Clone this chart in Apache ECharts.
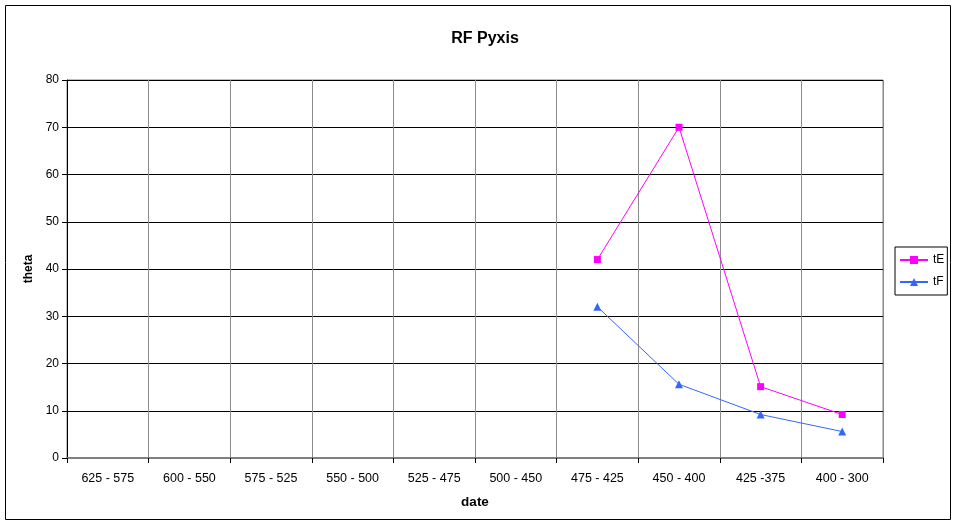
<!DOCTYPE html>
<html><head><meta charset="utf-8">
<script src="https://cdn.jsdelivr.net/npm/echarts@6/dist/echarts.min.js"></script>
<style>html,body{margin:0;padding:0;background:#fff}#c{width:960px;height:525px}</style>
</head><body><div id="c"></div>
<script>
const categories = ['625 - 575','600 - 550','575 - 525','550 - 500','525 - 475','500 - 450','475 - 425','450 - 400','425 -375','400 - 300'];
const tE = [null,null,null,null,null,null,42,70,15.1,9.2];
const tF = [null,null,null,null,null,null,32,15.6,9.2,5.6];
const yTicks = [0,10,20,30,40,50,60,70,80];

const chart = echarts.init(document.getElementById('c'));
const font = '"Liberation Sans", Arial, sans-serif';
chart.setOption({
  animation:false,
  textStyle:{fontFamily:font},
  graphic:[{type:'rect',shape:{x:5.5,y:5.5,width:945,height:514},style:{fill:'none',stroke:'#000',lineWidth:1},silent:true}],
  title:{text:'RF Pyxis',left:480,top:26,textAlign:'center',textStyle:{fontFamily:font,fontSize:16,fontWeight:'bold',color:'#000'}},
  legend:{orient:'vertical',left:895,top:247,itemWidth:28,itemHeight:10,itemGap:10,padding:[7,3,7,4],borderColor:'#000',borderWidth:1,
    textStyle:{fontFamily:font,fontSize:12,color:'#000'},data:['tE','tF']},
  grid:{left:67,right:77,top:80,bottom:67,containLabel:false,show:true,borderColor:'#808080',borderWidth:1},
  xAxis:{type:'category',data:categories,boundaryGap:true,name:'date',nameLocation:'middle',nameGap:37,
    nameTextStyle:{fontFamily:font,fontSize:13.5,fontWeight:'bold',color:'#000'},
    axisLine:{lineStyle:{color:'#808080',width:2}},axisTick:{show:true,length:5,lineStyle:{color:'#000'}},
    axisLabel:{fontFamily:font,fontSize:12.5,color:'#000',margin:14},
    splitLine:{show:true,lineStyle:{color:'#8c8c8c',width:1}}},
  yAxis:{type:'value',min:0,max:80,interval:10,name:'theta',nameLocation:'middle',nameGap:32,nameRotate:90,
    nameTextStyle:{fontFamily:font,fontSize:12,fontWeight:'bold',color:'#000'},
    axisLine:{show:true,lineStyle:{color:'#000',width:1}},axisTick:{show:true,length:5,lineStyle:{color:'#000'}},
    axisLabel:{fontFamily:font,fontSize:12,color:'#000',margin:8},
    splitLine:{show:true,lineStyle:{color:'#000',width:1}}},
  series:[
    {name:'tE',type:'line',data:tE,symbol:'rect',symbolSize:7,color:'#ff00ff',lineStyle:{width:1,color:'#ff00ff'},itemStyle:{color:'#ff00ff'}},
    {name:'tF',type:'line',data:tF,symbol:'triangle',symbolSize:8,color:'#3366ff',lineStyle:{width:1,color:'#3366ff'},itemStyle:{color:'#3366ff'}}
  ]
});
</script></body></html>
